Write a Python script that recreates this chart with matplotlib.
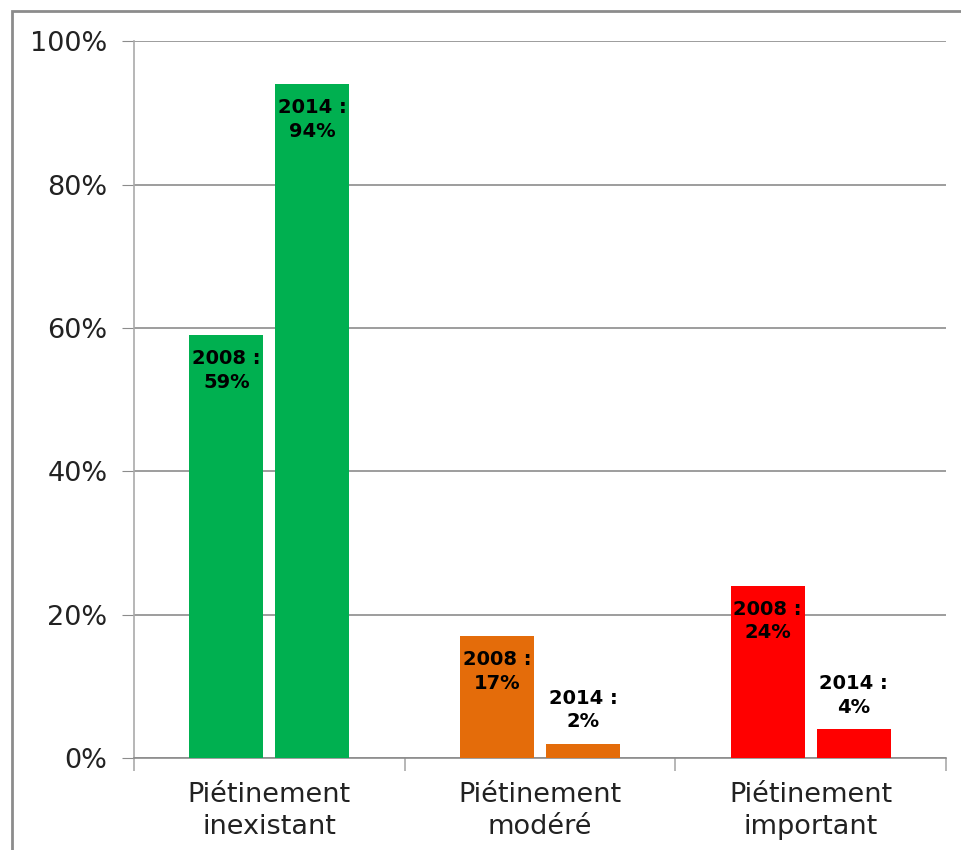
import matplotlib.pyplot as plt
from matplotlib.patches import Rectangle
import numpy as np

# Data
categories = ["Piétinement\ninexistant", "Piétinement\nmodéré", "Piétinement\nimportant"]
values_2008 = [59, 17, 24]
values_2014 = [94, 2, 4]
colors = ["#00B050", "#E46C0A", "#FF0000"]
yticks = [0, 20, 40, 60, 80, 100]
ytick_labels = ["0%", "20%", "40%", "60%", "80%", "100%"]

fig = plt.figure(figsize=(9.61, 8.5), dpi=100)
ax = fig.add_axes([0.1394, 0.1082, 0.845, 0.843])

# Outer frame of the figure
fig.patches.append(Rectangle((12 / 961, -0.1), 1.2, (850 - 11) / 850 + 0.1,
                             transform=fig.transFigure, fill=False,
                             edgecolor="#8c8c8c", linewidth=2))

x = np.arange(len(categories))
width = 0.273
offset = 0.159

bars08 = ax.bar(x - offset, values_2008, width, color=colors, zorder=3)
bars14 = ax.bar(x + offset, values_2014, width, color=colors, zorder=3)

# Value labels: inside the bar top when tall enough, otherwise above it
def label_bars(bars, year, values):
    for b, v in zip(bars, values):
        cx = b.get_x() + b.get_width() / 2
        txt = f"{year} :\n{v}%"
        if v >= 10:
            ax.annotate(txt, (cx, v), xytext=(0, -10), textcoords="offset points",
                        ha="center", va="top", fontsize=14, fontweight="bold",
                        linespacing=1.3, zorder=4)
        else:
            ax.annotate(txt, (cx, v), xytext=(0, 9), textcoords="offset points",
                        ha="center", va="bottom", fontsize=14, fontweight="bold",
                        linespacing=1.3, zorder=4)

label_bars(bars08, 2008, values_2008)
label_bars(bars14, 2014, values_2014)

ax.set_xlim(-0.5, 2.5)
ax.set_ylim(0, 100)
ax.set_yticks(yticks)
ax.set_yticklabels(ytick_labels, fontsize=19.5, color="#222222")
ax.yaxis.grid(True, color="#8c8c8c", linewidth=1.2, zorder=0)
ax.tick_params(axis="y", length=9, color="#8c8c8c", pad=10)

# Category labels centred, tick marks at the category boundaries
ax.set_xticks(x)
ax.set_xticklabels(categories, fontsize=19.5, color="#222222", linespacing=1.3)
ax.tick_params(axis="x", length=0, pad=17)
ax.set_xticks([-0.5, 0.5, 1.5, 2.5], minor=True)
ax.tick_params(axis="x", which="minor", length=9, color="#aaaaaa", width=1.2)

for side in ["top", "right"]:
    ax.spines[side].set_visible(False)
ax.spines["left"].set_color("#aaaaaa")
ax.spines["left"].set_linewidth(1.2)
ax.spines["bottom"].set_color("#8c8c8c")
ax.spines["bottom"].set_linewidth(1.2)

plt.savefig("out.png", dpi=100)
